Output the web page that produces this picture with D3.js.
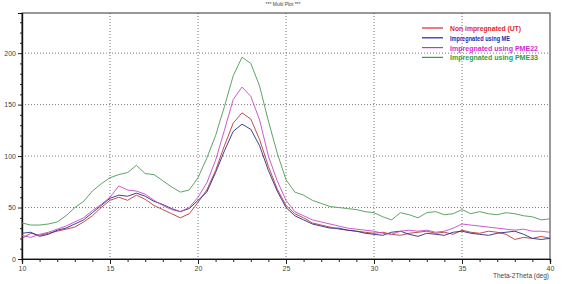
<!DOCTYPE html>
<html>
<head>
<meta charset="utf-8">
<script src="https://cdn.jsdelivr.net/npm/d3@7"></script>
<style>
  body { margin: 0; background: #fff; }
  svg { display: block; font-family: "Liberation Sans", Arial, sans-serif; }
  .tick text { fill: #444; font-size: 7px; }
  .grid line { stroke: #555; stroke-dasharray: 1,2; stroke-width: 0.8; }
</style>
</head>
<body>
<svg id="chart" width="564" height="284"></svg>
<script>
// 2theta positions, 0.5 deg apart
var theta = d3.range(10, 40.001, 0.5);

// intensities
var nonImpregnated = [20,25,23,25,27,29,31,36,42,50, 57,60,57,62,58,52,48,44,40,44,
  55,67,86,110,132,142,136,116,90,68, 52,44,40,35,33,31,29,28,27,26,
  25,26,24,23,25,26,27,25,26,24, 28,26,25,27,26,24,19,21,20,22,20];
var usingME = [25,26,22,24,28,30,34,38,45,52, 59,62,61,64,61,56,53,49,46,49,
  57,65,84,105,124,131,126,110,86,66, 50,42,38,34,32,30,30,28,27,25,
  24,23,26,27,24,22,25,24,23,26, 27,25,24,23,25,26,27,24,20,19,20];
var usingPME22 = [23,21,24,26,29,32,36,40,47,53, 60,71,67,66,63,57,52,48,46,50,
  60,74,96,125,155,167,158,135,100,76, 57,46,42,38,36,34,32,30,29,28,
  27,25,24,27,28,27,28,26,27,30, 34,33,32,31,30,29,28,29,27,27,26];
var usingPME33 = [35,33,33,34,36,42,50,56,66,73, 79,82,84,91,83,82,76,70,65,67,
  79,98,120,148,178,196,190,168,134,103, 77,65,62,57,54,51,50,49,48,46,
  45,41,38,45,43,40,45,46,43,44, 48,44,46,44,43,45,44,42,41,38,39];

var seriesNames = ['Non impregnated (UT)', 'Impregnated using ME', 'Impregnated using PME22', 'Impregnated using PME33'];
var lineColors = ['#b83a3a', '#2a2a86', '#c448c4', '#4c9a55'];
var labelColors = ['#e0282e', '#1f1fb4', '#d22ad2', '#2aa24a'];
var labelWidths = [71, 60, 88, 88];

var xTicks = [10, 15, 20, 25, 30, 35, 40];
var yTicks = [0, 50, 100, 150, 200];

var allSeries = [nonImpregnated, usingME, usingPME22, usingPME33];

var svg = d3.select('#chart');
var plotL = 22, plotR = 550, plotT = 13, plotB = 259;

var x = d3.scaleLinear().domain([10, 40]).range([plotL, plotR]);
var y = d3.scaleLinear().domain([0, 239]).range([plotB, plotT]);

// title
svg.append('text')
  .attr('x', 283).attr('y', 6)
  .attr('text-anchor', 'middle')
  .attr('font-size', 5)
  .attr('fill', '#444')
  .text('*** Multi Plot ***');

// dotted grid
var grid = svg.append('g').attr('class', 'grid');
grid.selectAll('.gy').data(yTicks.slice(1)).enter().append('line')
  .attr('x1', plotL).attr('x2', plotR)
  .attr('y1', function(d) { return y(d); }).attr('y2', function(d) { return y(d); });
grid.selectAll('.gx').data(xTicks.slice(1, -1)).enter().append('line')
  .attr('y1', plotT).attr('y2', plotB)
  .attr('x1', function(d) { return x(d); }).attr('x2', function(d) { return x(d); });

// frame
svg.append('rect')
  .attr('x', plotL).attr('y', plotT)
  .attr('width', plotR - plotL).attr('height', plotB - plotT)
  .attr('fill', 'none').attr('stroke', '#333').attr('stroke-width', 1);

// minor ticks
var minorX = d3.range(10, 41, 1).filter(function(d) { return d % 5 !== 0; });
var minorY = d3.range(0, 240, 10).filter(function(d) { return d % 50 !== 0; });

svg.append('g')
  .attr('transform', 'translate(0,' + plotB + ')')
  .call(d3.axisBottom(x).tickValues(xTicks).tickSize(5).tickPadding(2).tickFormat(d3.format('d')));
svg.append('g')
  .attr('transform', 'translate(0,' + plotB + ')')
  .call(d3.axisBottom(x).tickValues(minorX).tickSize(3).tickFormat(''));

svg.append('g')
  .attr('transform', 'translate(' + plotL + ',0)')
  .call(d3.axisLeft(y).tickValues(yTicks).tickSize(4).tickPadding(2));
svg.append('g')
  .attr('transform', 'translate(' + plotL + ',0)')
  .call(d3.axisLeft(y).tickValues(minorY).tickSize(2).tickFormat(''));

svg.selectAll('.domain').attr('stroke', '#111').attr('stroke-width', 1.2);
svg.selectAll('.tick line').attr('stroke', '#222');

// x axis title
svg.append('text')
  .attr('x', 549).attr('y', 278)
  .attr('text-anchor', 'end')
  .attr('font-size', 6.5)
  .attr('fill', '#444')
  .text('Theta-2Theta (deg)');

// series
var line = d3.line()
  .x(function(d, i) { return x(theta[i]); })
  .y(function(d) { return y(d); });

svg.append('g').selectAll('path').data(allSeries).enter().append('path')
  .attr('d', line)
  .attr('fill', 'none')
  .attr('stroke', function(d, i) { return lineColors[i]; })
  .attr('stroke-width', 0.9)
  .attr('stroke-linejoin', 'round');

// legend
var legend = svg.append('g');
var rows = legend.selectAll('g').data(seriesNames).enter().append('g')
  .attr('transform', function(d, i) { return 'translate(0,' + (28 + i * 9.8) + ')'; });
rows.append('line')
  .attr('x1', 422).attr('x2', 443)
  .attr('stroke', function(d, i) { return labelColors[i]; })
  .attr('stroke-width', 1.2);
rows.append('text')
  .attr('x', 450).attr('y', 3)
  .attr('font-size', 8)
  .attr('font-weight', 'bold')
  .attr('textLength', function(d, i) { return labelWidths[i]; })
  .attr('lengthAdjust', 'spacingAndGlyphs')
  .attr('fill', function(d, i) { return labelColors[i]; })
  .text(function(d) { return d; });
</script>
</body>
</html>
